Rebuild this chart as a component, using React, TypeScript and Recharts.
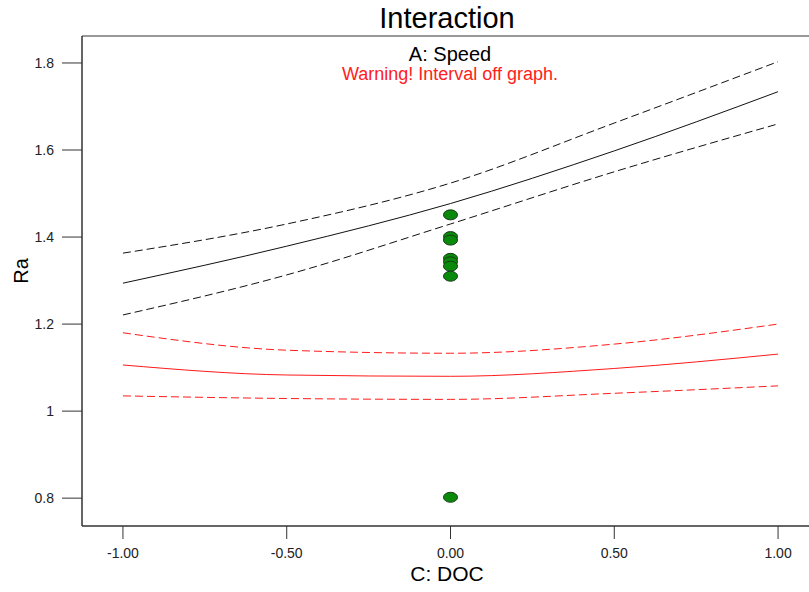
import {
  ComposedChart,
  Line,
  Scatter,
  XAxis,
  YAxis,
  ReferenceArea,
} from "recharts";

const doc = [-1, -0.5, 0, 0.5, 1];

// A: Speed low (black) and high (red) prediction + 95% interval
const blackMid = [1.294, 1.379, 1.477, 1.598, 1.734];
const blackHi = [1.363, 1.43, 1.524, 1.662, 1.803];
const blackLo = [1.221, 1.313, 1.43, 1.55, 1.66];
const redMid = [1.106, 1.083, 1.08, 1.098, 1.131];
const redHi = [1.18, 1.14, 1.133, 1.154, 1.2];
const redLo = [1.035, 1.029, 1.027, 1.041, 1.058];

const obsX = [0, 0, 0, 0, 0, 0, 0, 0];
const obsY = [1.451, 1.401, 1.393, 1.351, 1.343, 1.333, 1.31, 0.802];

const xTicks = [-1, -0.5, 0, 0.5, 1];
const yTicks = [0.8, 1, 1.2, 1.4, 1.6, 1.8];

const toRows = (ys: number[]) => doc.map((x, i) => ({ x, y: ys[i] }));
const points = obsX.map((x, i) => ({ x, y: obsY[i] }));

const FONT = "Arial, 'Liberation Sans', sans-serif";

const Dot = (props: any) => (
  <ellipse
    cx={props.cx}
    cy={props.cy}
    rx={7}
    ry={5}
    fill="#0a8a0a"
    stroke="#1a3a1a"
    strokeWidth={1}
  />
);

export default function App() {
  const tickStyle = { fontSize: 14, fill: "#222", fontFamily: FONT };
  return (
    <div
      style={{
        position: "absolute",
        left: 0,
        top: 0,
        width: 809,
        height: 592,
        overflow: "hidden",
        background: "#fff",
        fontFamily: FONT,
      }}
    >
      <ComposedChart
        width={830}
        height={592}
        margin={{ top: 36, right: 11, bottom: 0, left: 0 }}
      >
        <XAxis
          type="number"
          dataKey="x"
          domain={[-1.125, 1.125]}
          ticks={xTicks}
          tickFormatter={(v: number) => v.toFixed(2)}
          tickSize={13}
          tickMargin={9}
          height={66}
          stroke="#333"
          tick={tickStyle}
          allowDataOverflow
        />
        <YAxis
          type="number"
          dataKey="y"
          domain={[0.736, 1.862]}
          ticks={yTicks}
          tickFormatter={(v: number) => (v === 1 ? "1" : String(v))}
          tickSize={20}
          tickMargin={8}
          width={82}
          stroke="#333"
          tick={tickStyle}
          allowDataOverflow
        />
        <ReferenceArea
          x1={-1.125}
          x2={1.125}
          y1={0.736}
          y2={1.862}
          fill="none"
          stroke="#333"
          strokeOpacity={1}
        />
        <Line data={toRows(blackHi)} dataKey="y" type="monotone" stroke="#111" strokeDasharray="8 4" dot={false} isAnimationActive={false} />
        <Line data={toRows(blackMid)} dataKey="y" type="monotone" stroke="#111" dot={false} isAnimationActive={false} />
        <Line data={toRows(blackLo)} dataKey="y" type="monotone" stroke="#111" strokeDasharray="8 4" dot={false} isAnimationActive={false} />
        <Line data={toRows(redHi)} dataKey="y" type="monotone" stroke="#ff1a1a" strokeDasharray="8 4" dot={false} isAnimationActive={false} />
        <Line data={toRows(redMid)} dataKey="y" type="monotone" stroke="#ff1a1a" dot={false} isAnimationActive={false} />
        <Line data={toRows(redLo)} dataKey="y" type="monotone" stroke="#ff1a1a" strokeDasharray="8 4" dot={false} isAnimationActive={false} />
        <Scatter data={points} dataKey="y" shape={Dot} isAnimationActive={false} />
      </ComposedChart>

      <svg
        width={809}
        height={592}
        style={{ position: "absolute", left: 0, top: 0, pointerEvents: "none" }}
        fontFamily={FONT}
      >
        <text x={447} y={28} textAnchor="middle" fontSize={29} fill="#000">
          Interaction
        </text>
        <text x={450} y={61} textAnchor="middle" fontSize={20} fill="#000">
          A: Speed
        </text>
        <text x={450} y={80} textAnchor="middle" fontSize={18} fill="#ff2020">
          Warning! Interval off graph.
        </text>
        <text
          x={0}
          y={0}
          transform="translate(28 271) rotate(-90)"
          textAnchor="middle"
          fontSize={20}
          fill="#000"
        >
          Ra
        </text>
        <text x={447} y={581} textAnchor="middle" fontSize={21} fill="#000">
          C: DOC
        </text>
      </svg>
    </div>
  );
}
